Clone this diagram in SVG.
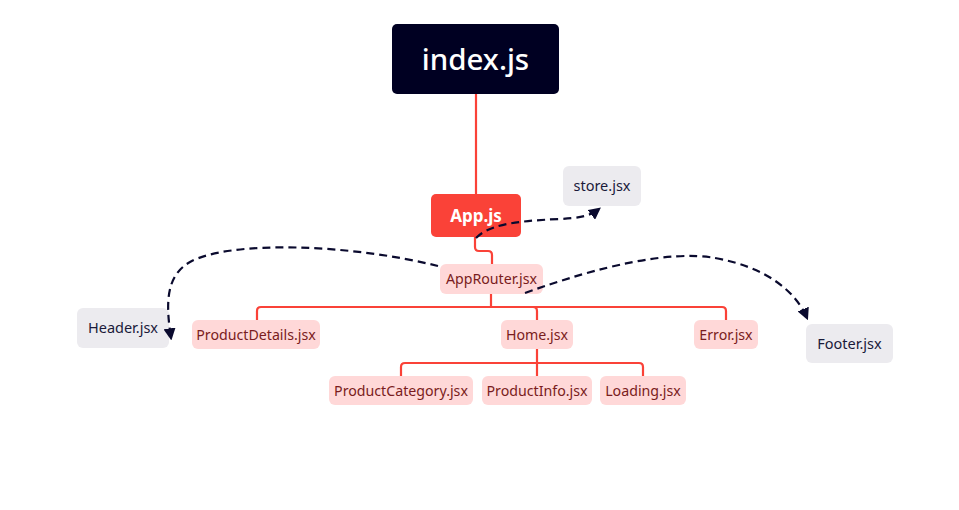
<svg xmlns="http://www.w3.org/2000/svg" width="959" height="510" viewBox="0 0 959 510">
<defs>
<style>
.tree{fill:none;stroke:#fa4238;stroke-width:2.2;stroke-linejoin:round}
.dep{fill:none;stroke:#0a0a2e;stroke-width:2.2;stroke-dasharray:8 5}
.pink rect{fill:#ffd8d8}
.pink text{fill:#7a1c20;font-family:"Noto Sans","Open Sans",sans-serif;font-size:14.2px;text-anchor:middle}
.gray rect{fill:#ecebef}
.gray text{fill:#1a1a3a;font-family:"Noto Sans","Open Sans",sans-serif;font-size:14.5px;text-anchor:middle}
</style>
<marker id="arr" viewBox="0 0 10 10" refX="8" refY="5" markerWidth="5.5" markerHeight="5.5" orient="auto" markerUnits="strokeWidth">
<path d="M0,0 L10,5 L0,10 z" fill="#0a0a2e"/>
</marker>
</defs>
<rect width="959" height="510" fill="#ffffff"/>
<g id="index">
<rect x="392" y="24" width="167" height="70" rx="5" fill="#000022"/>
<text x="475.5" y="69.5" fill="#ffffff" font-family="'Noto Sans','Open Sans',sans-serif" font-size="29.5" font-weight="500" text-anchor="middle">index.js</text>
</g>
<g id="app">
<rect x="431" y="194" width="90" height="43" rx="5" fill="#fa4238"/>
<text x="476" y="222" fill="#ffffff" font-family="'Noto Sans','Open Sans',sans-serif" font-size="17" font-weight="bold" text-anchor="middle">App.js</text>
</g>
<g id="approuter" class="pink">
<rect x="440" y="264" width="103" height="30" rx="6"/>
<text x="491.5" y="284">AppRouter.jsx</text>
</g>
<g id="productdetails" class="pink">
<rect x="192" y="320" width="128" height="29" rx="6"/>
<text x="256" y="340">ProductDetails.jsx</text>
</g>
<g id="home" class="pink">
<rect x="501" y="320" width="72" height="29" rx="6"/>
<text x="537" y="340">Home.jsx</text>
</g>
<g id="error" class="pink">
<rect x="694" y="320" width="64" height="29" rx="6"/>
<text x="726" y="340">Error.jsx</text>
</g>
<g id="productcategory" class="pink">
<rect x="329" y="376" width="144" height="29" rx="6"/>
<text x="401" y="396">ProductCategory.jsx</text>
</g>
<g id="productinfo" class="pink">
<rect x="482" y="376" width="110" height="29" rx="6"/>
<text x="537" y="396">ProductInfo.jsx</text>
</g>
<g id="loading" class="pink">
<rect x="600" y="376" width="86" height="29" rx="6"/>
<text x="643" y="396">Loading.jsx</text>
</g>
<g id="store" class="gray">
<rect x="563" y="166" width="78" height="40" rx="6"/>
<text x="602" y="191">store.jsx</text>
</g>
<g id="header" class="gray">
<rect x="77" y="308" width="92" height="40" rx="6"/>
<text x="123" y="333">Header.jsx</text>
</g>
<g id="footer" class="gray">
<rect x="806" y="324" width="87" height="39" rx="6"/>
<text x="849.5" y="349">Footer.jsx</text>
</g>
<g id="connectors">
<path class="tree" d="M476,94 V194"/>
<path class="tree" d="M475,237 V247 Q475,251 479,251 H488 Q492,251 492,255 V264"/>
<path class="tree" d="M491,294 V307"/>
<path class="tree" d="M257,320 V311 Q257,307 261,307 H722 Q726,307 726,311 V320"/>
<path class="tree" d="M533,307 Q537,307 537,311 V320"/>
<path class="tree" d="M537,349 V376"/>
<path class="tree" d="M401,376 V367 Q401,363 405,363 H639 Q643,363 643,367 V376"/>
<path class="dep" d="M438,266 C350,244 230,240 190,262 C165,276 166,305 171,338" marker-end="url(#arr)"/>
<path class="dep" d="M525,293 C600,266 670,250 715,258 C765,267 795,290 807,318" marker-end="url(#arr)"/>
<path class="dep" d="M476,238 C488,226 510,221 560,219 C580,218 590,216 599,209" marker-end="url(#arr)"/>
</g>
</svg>
